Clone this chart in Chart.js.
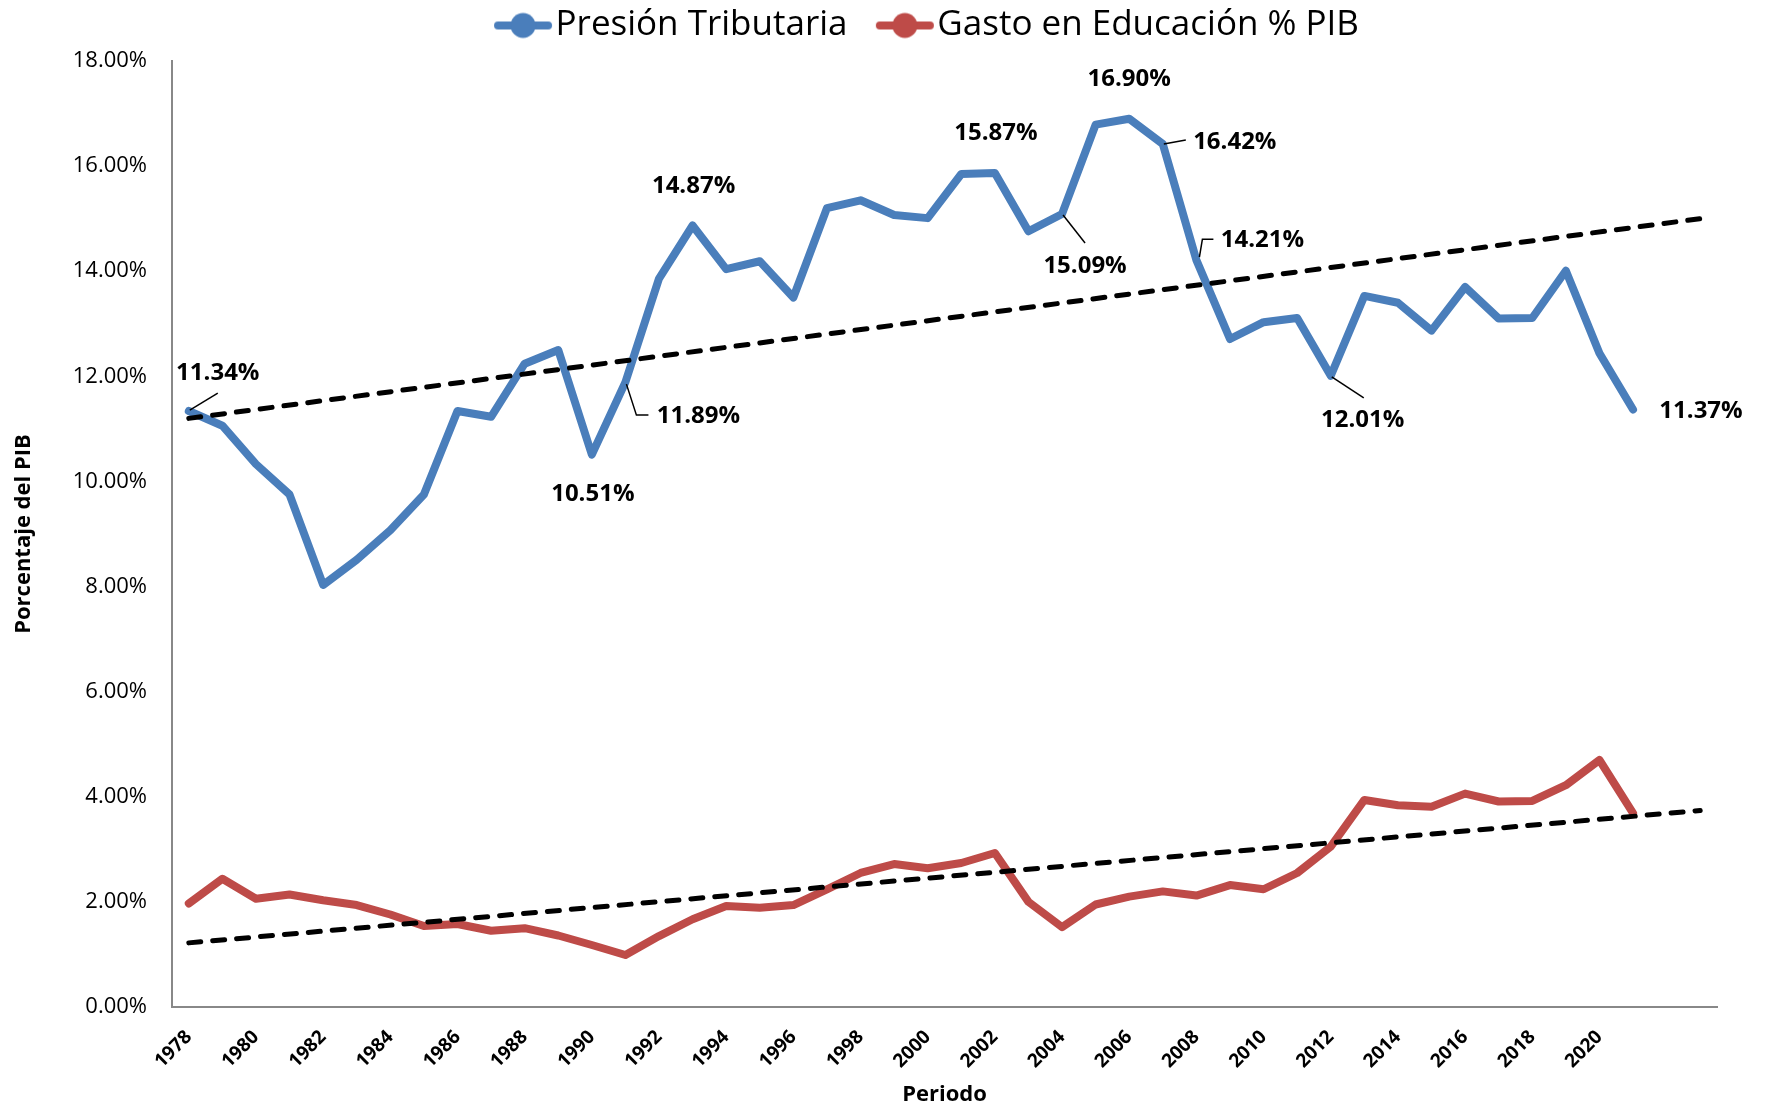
<!DOCTYPE html>
<html>
<head>
<meta charset="utf-8">
<script src="https://cdn.jsdelivr.net/npm/chart.js@4.4.1/dist/chart.umd.min.js"></script>
<style>
  html, body { margin: 0; padding: 0; background: #ffffff; }
  #wrap { width: 1765px; height: 1112px; position: relative; }
</style>
</head>
<body>
<div id="wrap"><canvas id="c" width="1765" height="1112"></canvas></div>
<script>
// ---- DATA ----
const years = [1978,1979,1980,1981,1982,1983,1984,1985,1986,1987,1988,1989,1990,1991,1992,1993,1994,1995,1996,1997,1998,1999,2000,2001,2002,2003,2004,2005,2006,2007,2008,2009,2010,2011,2012,2013,2014,2015,2016,2017,2018,2019,2020,2021];
const forecastYears = [2022, 2023]; // trendline forecast slots (no tick labels)

const presionTributaria = [11.34,11.06,10.33,9.75,8.03,8.51,9.07,9.75,11.34,11.23,12.24,12.50,10.51,11.89,13.86,14.87,14.04,14.19,13.50,15.20,15.35,15.07,15.01,15.85,15.87,14.76,15.09,16.79,16.90,16.42,14.21,12.71,13.03,13.11,12.01,13.53,13.40,12.87,13.70,13.10,13.11,14.01,12.44,11.37];
const gastoEducacion = [1.97,2.44,2.06,2.14,2.03,1.94,1.76,1.54,1.58,1.45,1.50,1.36,1.18,0.99,1.35,1.67,1.92,1.89,1.94,2.24,2.55,2.72,2.64,2.74,2.93,2.00,1.52,1.95,2.10,2.20,2.12,2.32,2.24,2.55,3.05,3.94,3.84,3.81,4.06,3.91,3.92,4.22,4.70,3.69];

// trendline end values (first category, last forecast category)
const presionTrendEnds = [11.20, 15.00];
const gastoTrendEnds = [1.22, 3.74];

const seriesNames = ['Presión Tributaria', 'Gasto en Educación % PIB'];
const yAxisTitle = 'Porcentaje del PIB';
const xAxisTitle = 'Periodo';
const yMin = 0, yMax = 18, yStep = 2;

// ---- BUILD ----
const categories = years.concat(forecastYears).map(String);
function trendSeries(ends) {
  return categories.map((_, i) => i === 0 ? ends[0] : (i === categories.length - 1 ? ends[1] : null));
}

const BLUE = '#4a7ebb';
const RED = '#be4b48';
const FONT = '"Open Sans", "Noto Sans", sans-serif';

function makeMarker(color) {
  const c = document.createElement('canvas');
  c.width = 60; c.height = 28;
  const g = c.getContext('2d');
  g.strokeStyle = color; g.lineWidth = 8; g.lineCap = 'round';
  g.beginPath(); g.moveTo(5, 14); g.lineTo(55, 14); g.stroke();
  g.fillStyle = color;
  g.beginPath(); g.arc(30, 14, 12.5, 0, Math.PI * 2); g.fill();
  return c;
}

const pointLabelsPlugin = {
  id: 'pointLabels',
  afterDatasetsDraw(chart, args, opts) {
    const ds = chart.data.datasets[opts.datasetIndex];
    const meta = chart.getDatasetMeta(opts.datasetIndex);
    const ctx = chart.ctx;
    ctx.save();
    ctx.font = 'bold 24px ' + FONT;
    ctx.fillStyle = '#000';
    ctx.strokeStyle = '#000';
    ctx.lineWidth = 1.5;
    ctx.textAlign = 'center';
    ctx.textBaseline = 'middle';
    opts.items.forEach(it => {
      const el = meta.data[it.i];
      if (!el) return;
      const x = el.x, y = el.y;
      if (it.leader) {
        ctx.beginPath();
        it.leader.forEach((p, k) => k ? ctx.lineTo(x + p[0], y + p[1]) : ctx.moveTo(x + p[0], y + p[1]));
        ctx.stroke();
      }
      ctx.fillText(ds.data[it.i].toFixed(2) + '%', x + it.dx, y + it.dy);
    });
    ctx.restore();
  }
};

const legendShiftPlugin = {
  id: 'legendShift',
  afterLayout(chart, args, opts) {
    if (chart.legend) {
      chart.legend.left += opts.dx;
      chart.legend.right += opts.dx;
      chart.legend.top += opts.dy;
      chart.legend.bottom += opts.dy;
    }
  }
};

function draw() {
  const ctx = document.getElementById('c').getContext('2d');
  const markers = [makeMarker(BLUE), makeMarker(RED)];
  new Chart(ctx, {
    type: 'line',
    data: {
      labels: categories,
      datasets: [
        { label: seriesNames[0], data: presionTributaria, borderColor: BLUE, backgroundColor: BLUE,
          borderWidth: 8, pointRadius: 0, borderJoinStyle: 'round', borderCapStyle: 'round', tension: 0, order: 1, inLegend: true },
        { label: seriesNames[1], data: gastoEducacion, borderColor: RED, backgroundColor: RED,
          borderWidth: 8, pointRadius: 0, borderJoinStyle: 'round', borderCapStyle: 'round', tension: 0, order: 1, inLegend: true },
        { label: 'Tendencia ' + seriesNames[0], data: trendSeries(presionTrendEnds), borderColor: '#000',
          borderWidth: 5, borderDash: [12, 12], borderCapStyle: 'round', pointRadius: 0, spanGaps: true, order: 0 },
        { label: 'Tendencia ' + seriesNames[1], data: trendSeries(gastoTrendEnds), borderColor: '#000',
          borderWidth: 5, borderDash: [12, 12], borderCapStyle: 'round', pointRadius: 0, spanGaps: true, order: 0 }
      ]
    },
    options: {
      responsive: false,
      animation: false,
      layout: { padding: { left: 10, right: 48, top: 2, bottom: 0 } },
      plugins: {
        tooltip: { enabled: false },
        legend: {
          position: 'top',
          labels: {
            usePointStyle: true,
            pointStyleWidth: 30,
            padding: 6,
            color: '#000',
            font: { family: FONT, size: 35 },
            generateLabels(chart) {
              return chart.data.datasets.map((d, i) => ({ d, i })).filter(o => o.d.inLegend).map((o, k) => ({
                text: o.d.label + (k === 0 ? '    ' : ''),
                fillStyle: o.d.borderColor,
                strokeStyle: o.d.borderColor,
                lineWidth: 0,
                hidden: false,
                datasetIndex: o.i,
                pointStyle: markers[k],
                fontColor: '#000'
              }));
            }
          }
        },
        legendShift: { dx: 70, dy: -8 },
        pointLabels: {
          datasetIndex: 0,
          items: [
            { i: 0,  dx: 29, dy: -38, leader: [[1, -1], [29, -18]] },
            { i: 12, dx: 1,  dy: 40 },
            { i: 13, dx: 73, dy: 34, leader: [[1, 2], [11, 33], [23, 33]] },
            { i: 15, dx: 1,  dy: -39 },
            { i: 24, dx: 1,  dy: -40 },
            { i: 26, dx: 23, dy: 52, leader: [[1, 1], [23, 29]] },
            { i: 28, dx: 0,  dy: -40 },
            { i: 29, dx: 72, dy: -2, leader: [[1, 0], [23, -4]] },
            { i: 30, dx: 66, dy: -20, leader: [[3, -3], [6, -21], [17, -21]] },
            { i: 34, dx: 32, dy: 44, leader: [[1, 1], [33, 22]] },
            { i: 43, dx: 68, dy: 2 }
          ]
        }
      },
      scales: {
        x: {
          type: 'category',
          offset: true,
          grid: { display: false, drawTicks: false },
          border: { display: true, color: '#888888', width: 2 },
          ticks: {
            autoSkip: false,
            minRotation: 45,
            maxRotation: 45,
            padding: 19,
            color: '#000',
            font: { family: FONT, size: 19, weight: 'bold' },
            callback(value, index) {
              return (index < years.length && index % 2 === 0) ? String(years[index]) : '';
            }
          },
          title: { display: true, text: xAxisTitle, color: '#000', font: { family: FONT, size: 22, weight: 'bold' }, padding: { top: 0, bottom: 4 } },
          afterFit(scale) { scale.height = 105; }
        },
        y: {
          min: yMin, max: yMax,
          grid: { display: false, drawTicks: false },
          border: { display: true, color: '#888888', width: 2 },
          ticks: {
            stepSize: yStep,
            padding: 25,
            color: '#000',
            font: { family: FONT, size: 22 },
            callback(v) { return Number(v).toFixed(2) + '%'; }
          },
          title: { display: true, text: yAxisTitle, color: '#000', font: { family: FONT, size: 22, weight: 'bold' }, padding: { top: 1, bottom: 0 } },
          afterFit(scale) { scale.width = 162; scale.paddingTop = 61; }
        }
      }
    },
    plugins: [pointLabelsPlugin, legendShiftPlugin]
  });
}

const fontLoads = document.fonts ? Promise.all([
  document.fonts.load('35px "Open Sans"'),
  document.fonts.load('bold 24px "Open Sans"')
]).catch(() => null) : Promise.resolve();
fontLoads.then(draw, draw);
</script>
</body>
</html>
